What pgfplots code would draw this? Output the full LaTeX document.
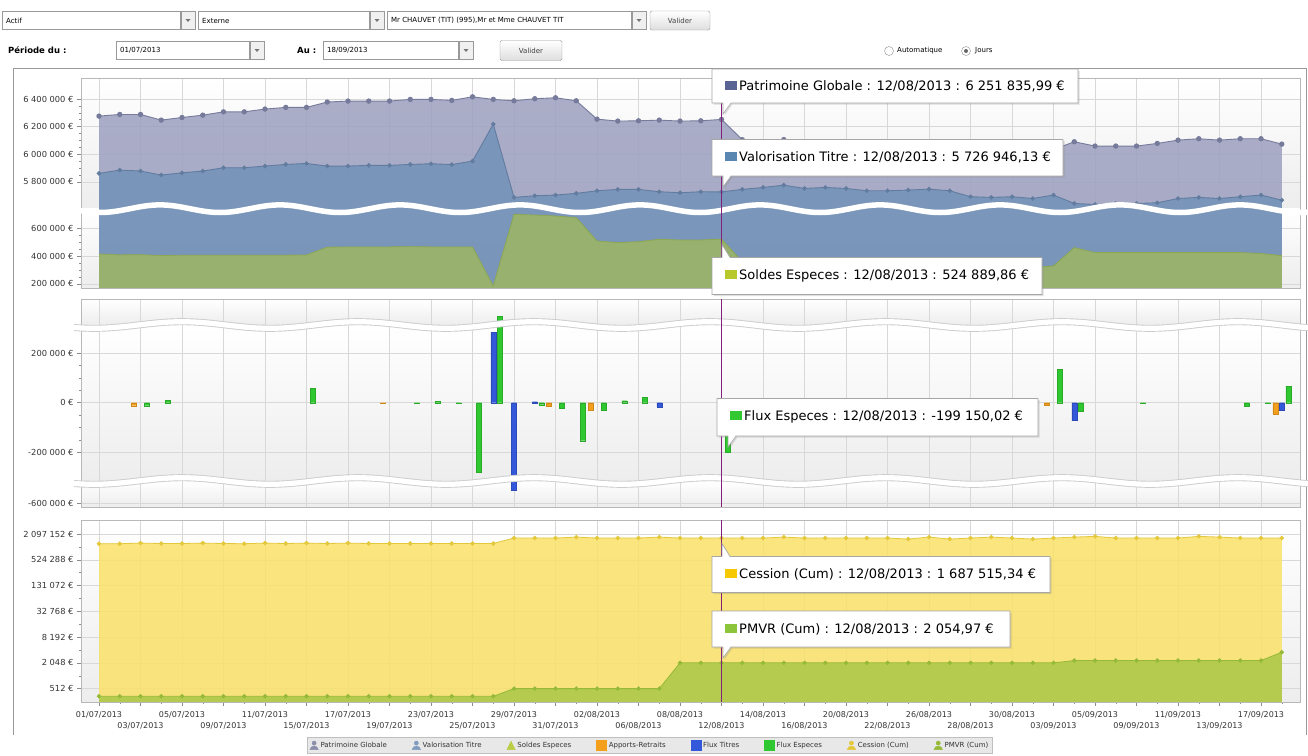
\documentclass[border=0pt]{standalone}
\usepackage{fontspec}
\setmainfont{DejaVu Sans}
\usepackage{pgfplots}
\pgfplotsset{compat=1.18}
\usepackage{pgfplotstable}
\usepgfplotslibrary{fillbetween}
\usetikzlibrary{shadows}

\definecolor{patF}{RGB}{157,160,191}
\definecolor{patL}{RGB}{118,122,155}
\definecolor{valF}{RGB}{114,146,184}
\definecolor{valL}{RGB}{98,124,160}
\definecolor{solF}{RGB}{158,182,98}
\definecolor{solL}{RGB}{140,168,80}
\definecolor{cesF}{RGB}{250,225,105}
\definecolor{cesL}{RGB}{228,200,60}
\definecolor{pmvF}{RGB}{174,201,75}
\definecolor{pmvL}{RGB}{150,185,55}
\definecolor{appC}{RGB}{245,160,28}
\definecolor{titC}{RGB}{52,88,218}
\definecolor{espC}{RGB}{48,200,48}
\definecolor{cursorC}{RGB}{130,32,122}
\definecolor{gridC}{RGB}{216,216,216}
\definecolor{axC}{RGB}{140,140,140}
\definecolor{tipPat}{RGB}{90,100,148}
\definecolor{tipVal}{RGB}{90,134,178}
\definecolor{tipSol}{RGB}{184,200,42}
\definecolor{tipEsp}{RGB}{50,200,50}
\definecolor{tipCes}{RGB}{245,200,0}
\definecolor{tipPmv}{RGB}{140,196,60}

\newcommand\fsz[1]{\fontsize{#1}{#1}\selectfont}

% index = business day (0 = 01/07/2013 ... 57 = 18/09/2013)
\pgfplotstableread{
i pat val sol ces pmvr
0 6276000 5861000 417000 1245000 339
1 6288000 5885000 410000 1245000 339
2 6288000 5878000 412000 1290000 339
3 6247000 5849000 405000 1260000 339
4 6266000 5865000 408000 1260000 339
5 6283000 5878000 408000 1290000 339
6 6307000 5902000 408000 1260000 339
7 6307000 5902000 408000 1245000 339
8 6327000 5914000 408000 1290000 339
9 6339000 5926000 408000 1260000 339
10 6339000 5933000 410000 1290000 339
11 6378000 5914000 466000 1260000 339
12 6385000 5914000 468000 1290000 339
13 6385000 5919000 468000 1260000 339
14 6385000 5919000 468000 1260000 339
15 6397000 5926000 470000 1260000 339
16 6397000 5931000 468000 1260000 339
17 6390000 5925000 468000 1260000 339
18 6416000 5950000 468000 1260000 339
19 6397000 6218000 185000 1260000 339
20 6387000 5687000 704000 1690000 514
21 6402000 5699000 699000 1690000 514
22 6409000 5704000 692000 1690000 514
23 6387000 5716000 680000 1780000 514
24 6254000 5735000 511000 1690000 514
25 6240000 5745000 499000 1690000 514
26 6242000 5745000 506000 1690000 514
27 6247000 5728000 523000 1780000 514
28 6240000 5721000 518000 1690000 2055
29 6242000 5728000 518000 1690000 2055
30 6251836 5726946 524890 1687515 2055
31 6105000 5745000 360000 1690000 2055
32 6089000 5759000 330000 1690000 2055
33 6106000 5776000 330000 1780000 2055
34 6077000 5752000 325000 1690000 2055
35 6084000 5759000 325000 1690000 2055
36 6077000 5752000 325000 1690000 2055
37 6057000 5735000 322000 1690000 2055
38 6055000 5735000 320000 1690000 2055
39 6060000 5740000 320000 1600000 2055
40 6067000 5747000 320000 1780000 2055
41 6055000 5735000 320000 1600000 2055
42 6010000 5692000 318000 1690000 2055
43 6005000 5687000 318000 1780000 2055
44 6010000 5692000 318000 1690000 2055
45 5997000 5679000 318000 1600000 2055
46 6034000 5704000 330000 1690000 2055
47 6090000 5643000 463000 1780000 2326
48 6059000 5636000 427000 1850000 2326
49 6059000 5643000 427000 1690000 2326
50 6059000 5643000 427000 1690000 2326
51 6078000 5648000 427000 1690000 2326
52 6102000 5679000 427000 1690000 2326
53 6112000 5687000 427000 1850000 2326
54 6102000 5679000 427000 1780000 2326
55 6112000 5692000 427000 1690000 2326
56 6112000 5704000 420000 1690000 2326
57 6073000 5667000 405000 1690000 3640
}\series

\pgfplotstableread{
i v
2 -12000
14 -3000
22 -13000
24 -29000
46 -9000
57 -45000
}\apports
\pgfplotstableread{
i v
19 283000
20 -546000
21 4000
27 -18000
47 -72000
57 -32000
}\titres
\pgfplotstableread{
i v
2 -12000
3 9000
10 58000
15 -3000
16 5000
17 -3000
18 -281500
19 350000
21 -8000
22 -21000
23 -153000
24 -29000
25 8000
26 22000
30 -199150
46 135600
47 -36000
50 -2000
55 -16000
56 -3000
57 67000
}\especes

\pgfplotsset{
  panel/.style={
    scale only axis, width=1219pt, xmin=-0.8675, xmax=57.88, anchor=north west,
    axis lines*=left, x axis line style={draw=none}, y axis line style={draw=axC},
    scaled y ticks=false,
    tick align=outside, major tick length=4pt, minor tick length=2pt,
    xtick={0,2,...,56}, xticklabels={}, xtick style={draw=none},
    ytick style={draw=axC, line width=0.5pt},
    minor y tick num=3,
    xmajorgrids, ymajorgrids, grid style={gridC, line width=0.5pt},
    yticklabel style={font=\fsz{8.3}, text=black!80},
    xticklabel style={font=\fsz{8}, text=black!80},
    axis background/.style={shade, top color=white, bottom color=black!7},
  },
  patfill/.style={fill=patF, fill opacity=0.85, draw=none},
  valfill/.style={fill=valF, fill opacity=0.85, draw=none},
  solfill/.style={fill=solF, fill opacity=0.85, draw=none},
  patline/.style={patL, line width=0.9pt, mark=*, mark size=2.2pt, mark options={fill=patL, draw=patL}},
  valline/.style={valL, line width=0.9pt, mark=*, mark size=1.8pt, mark options={fill=valL, draw=valL}},
  solline/.style={solL, line width=0.8pt},
  appbar/.style={ybar, bar width=5pt, bar shift=-6.5pt, fill=appC, draw=appC!85!black, line width=0.4pt},
  titbar/.style={ybar, bar width=5pt, bar shift=0pt, fill=titC, draw=titC!85!black, line width=0.4pt},
  espbar/.style={ybar, bar width=5pt, bar shift=6.5pt, fill=espC, draw=espC!85!black, line width=0.4pt},
}

\newcommand\personicon[1]{%
  \fill[#1] (4.5pt,2.8pt) circle (2.1pt);
  \fill[#1] (0.3pt,-3.8pt) .. controls (0.5pt,1pt) and (8.5pt,1pt) .. (8.7pt,-3.8pt) -- cycle;}
\newcommand\triicon[1]{\fill[#1] (0.3pt,-3.8pt) -- (4.5pt,4.8pt) -- (8.7pt,-3.8pt) -- cycle;}
\newcommand\sqicon[1]{\fill[#1] (0pt,-4pt) rectangle (10pt,6pt);}

% tooltips (pixel coordinates, y downwards)
\newcommand\tipdown[6]{%
  \path[fill=white, draw=black!35, line width=0.6pt, drop shadow={shadow xshift=1.5pt, shadow yshift=-1.5pt, opacity=0.25}]
    (#1,#2) -- (#3,#2) -- (#3,#4) -- ({#1+19},#4) -- ({#1+11},{#4+11}) -- ({#1+11},#4) -- (#1,#4) -- cycle;
  \node[anchor=west, inner sep=0pt, font=\fsz{13}] at ({#1+13},{(#2+#4)/2}) {\textcolor{#5}{\rule[0.5pt]{12pt}{9pt}}\hspace{2pt}#6};}
\newcommand\tipup[6]{%
  \path[fill=white, draw=black!35, line width=0.6pt, drop shadow={shadow xshift=1.5pt, shadow yshift=-1.5pt, opacity=0.25}]
    (#1,#2) -- ({#1+10},#2) -- ({#1+10},{#2-13}) -- ({#1+18},#2) -- (#3,#2) -- (#3,#4) -- (#1,#4) -- cycle;
  \node[anchor=west, inner sep=0pt, font=\fsz{13}] at ({#1+13},{(#2+#4)/2}) {\textcolor{#5}{\rule[0.5pt]{12pt}{9pt}}\hspace{2pt}#6};}
\newcommand\dropbox[5]{%
  \draw[black!40, fill=white] (#1,#2) rectangle (#3,#4);
  \node[anchor=west, font=\fsz{7}, inner sep=0pt] at ({#1+4},{(#2+#4)/2}) {#5};
  \draw[black!40, fill=black!6] ({#3+1},#2) rectangle ({#3+15},#4);
  \fill[black!55] ({#3+5.5},{(#2+#4)/2-1.5}) -- ({#3+10.5},{(#2+#4)/2-1.5}) -- ({#3+8},{(#2+#4)/2+1.5}) -- cycle;}
\newcommand\uibutton[5]{%
  \draw[black!40, rounded corners=1.5pt, top color=white, bottom color=black!13] (#1,#2) rectangle (#3,#4);
  \node[font=\fsz{7}, text=black!75] at ({(#1+#3)/2},{(#2+#4)/2}) {#5};}

\begin{document}
\begin{tikzpicture}
\path (0,0) rectangle (1308pt,-755pt);

% ---------- Panel 1: upper segment ----------
\begin{axis}[panel, at={(81pt,-78.3pt)}, height=130.5pt,
  ymin=5604400, ymax=6550000,
  ytick={5800000,6000000,6200000,6400000},
  yticklabels={5 800 000 €,6 000 000 €,6 200 000 €,6 400 000 €}]
\addplot[patfill] table[x=i,y=pat]{\series} \closedcycle;
\addplot[patline] table[x=i,y=pat]{\series};
\addplot[valfill] table[x=i,y=val]{\series} \closedcycle;
\addplot[valline] table[x=i,y=val]{\series};
\end{axis}
% ---------- Panel 1: lower segment ----------
\begin{axis}[panel, at={(81pt,-208.7pt)}, height=80.2pt,
  ymin=163800, ymax=744900,
  ytick={200000,400000,600000},
  yticklabels={200 000 €,400 000 €,600 000 €}]
\addplot[patfill] table[x=i,y=pat]{\series} \closedcycle;
\addplot[valfill] table[x=i,y=val]{\series} \closedcycle;
\addplot[solfill] table[x=i,y=sol]{\series} \closedcycle;
\addplot[solline] table[x=i,y=sol]{\series};
\end{axis}

% ---------- Panel 2: three segments ----------
\begin{axis}[panel, at={(81pt,-299.3pt)}, height=25.7pt,
  ymin=312700, ymax=416000, ytick=\empty, minor y tick num=0]
\addplot[espbar, restrict y to domain=312700:2000000] table[x=i,y=v]{\especes};
\end{axis}
\begin{axis}[panel, at={(81pt,-325pt)}, height=156pt,
  ymin=-315000, ymax=312700,
  ytick={-200000,0,200000},
  yticklabels={-200 000 €,0 €,200 000 €}]
\addplot[appbar] table[x=i,y=v]{\apports};
\addplot[titbar] table[x=i,y=v]{\titres};
\addplot[espbar] table[x=i,y=v]{\especes};
\end{axis}
\begin{axis}[panel, at={(81pt,-481pt)}, height=25.8pt,
  ymin=-613700, ymax=-510000,
  ytick={-600000}, yticklabels={-600 000 €}]
\addplot[titbar, restrict y to domain=-2000000:-510000] table[x=i,y=v]{\titres};
\end{axis}

% ---------- Panel 3 ----------
\begin{axis}[panel, at={(81pt,-520pt)}, height=181.7pt,
  ymode=log, ymin=254, ymax=4463000,
  ytick={512,2048,8192,32768,131072,524288,2097152},
  yticklabels={512 €,2 048 €,8 192 €,32 768 €,131 072 €,524 288 €,2 097 152 €},
  minor y tick num=0, minor ytick={1024,4096,16384,65536,262144,1048576},
  x axis line style={draw=axC}, xtick style={draw=axC},
  xtick={0,4,...,56},
  xticklabels={01/07/2013,05/07/2013,11/07/2013,17/07/2013,23/07/2013,29/07/2013,02/08/2013,08/08/2013,14/08/2013,20/08/2013,26/08/2013,30/08/2013,05/09/2013,11/09/2013,17/09/2013},
  extra x ticks={2,6,10,14,18,22,26,30,34,38,42,46,50,54},
  extra x tick labels={03/07/2013,09/07/2013,15/07/2013,19/07/2013,25/07/2013,31/07/2013,06/08/2013,12/08/2013,16/08/2013,22/08/2013,28/08/2013,03/09/2013,09/09/2013,13/09/2013},
  extra x tick style={grid=major, xticklabel style={yshift=-11pt}},
  minor xtick={0,1,...,57},
  xticklabel style={yshift=-2.5pt},
  legend style={at={(0.4668,-0.241)}, anchor=center, draw=black!25, fill=black!9,
    font=\fsz{7}, text=black!80, legend columns=-1, inner sep=2.2pt,
    /tikz/every even column/.append style={column sep=23pt}},
]
\addplot[draw=none, name path=base, forget plot] coordinates {(0,200) (57,200)};
\addplot[draw=none, name path=ces, forget plot] table[x=i,y=ces]{\series};
\addplot[fill=cesF, fill opacity=0.85, forget plot] fill between[of=ces and base];
\addplot[draw=none, name path=pmv, forget plot] table[x=i,y=pmvr]{\series};
\addplot[fill=pmvF, fill opacity=0.9, forget plot] fill between[of=pmv and base];
\addplot[cesL, line width=0.8pt, mark=*, mark size=1.8pt, mark options={fill=cesL}, forget plot] table[x=i,y=ces]{\series};
\addplot[pmvL, line width=0.8pt, mark=*, mark size=1.8pt, mark options={fill=pmvL}, forget plot] table[x=i,y=pmvr]{\series};
\addlegendimage{legend image code/.code={\personicon{patL!85}}}
\addlegendentry{Patrimoine Globale}
\addlegendimage{legend image code/.code={\personicon{valF!90}}}
\addlegendentry{Valorisation Titre}
\addlegendimage{legend image code/.code={\triicon{solF!70!yellow}}}
\addlegendentry{Soldes Especes}
\addlegendimage{legend image code/.code={\sqicon{appC}}}
\addlegendentry{Apports-Retraits}
\addlegendimage{legend image code/.code={\sqicon{titC}}}
\addlegendentry{Flux Titres}
\addlegendimage{legend image code/.code={\sqicon{espC}}}
\addlegendentry{Flux Especes}
\addlegendimage{legend image code/.code={\personicon{cesL}}}
\addlegendentry{Cession (Cum)}
\addlegendimage{legend image code/.code={\personicon{pmvL}}}
\addlegendentry{PMVR (Cum)}
\end{axis}

% ---------- decorations in pixel coordinates ----------
\begin{scope}[x=1pt,y=-1pt]
  \draw[black!40] (13,735) -- (13,68.5) -- (1306,68.5) -- (1306,735);
  \draw[black!28] (81,78.3) rectangle (1300,288.3);
  \draw[black!28] (81,299.3) rectangle (1300,506.7);
  \draw[black!28] (81,520) rectangle (1300,701.7);
  \begin{scope}
    \clip (74,190) rectangle (1308,230);
    \draw[white, line width=5.5pt] (70,208.7) \foreach \k in {0,...,10}{ sin ++(30,3.8) cos ++(30,-3.8) sin ++(30,-3.8) cos ++(30,3.8) };
  \end{scope}
  \foreach \yc in {325,481}{
    \begin{scope}
      \clip (74,\yc-12) rectangle (1308,\yc+12);
      \draw[black!20, line width=7pt] (50,\yc) \foreach \k in {0,...,7}{ sin ++(44,3.3) cos ++(44,-3.3) sin ++(44,-3.3) cos ++(44,3.3) };
      \draw[white, line width=5.2pt] (50,\yc) \foreach \k in {0,...,7}{ sin ++(44,3.3) cos ++(44,-3.3) sin ++(44,-3.3) cos ++(44,3.3) };
    \end{scope}
  }
  \draw[cursorC, line width=1.3pt] (721.5,78.3) -- (721.5,288.3);
  \draw[cursorC, line width=1.3pt] (721.5,299.3) -- (721.5,506.7);
  \draw[cursorC, line width=1.3pt] (721.5,520) -- (721.5,701.7);
  \tipdown{712}{69}{1078}{103}{tipPat}{Patrimoine Globale : 12/08/2013 : 6 251 835,99 €}
  \tipdown{712}{139.5}{1063}{176}{tipVal}{Valorisation Titre : 12/08/2013 : 5 726 946,13 €}
  \tipup{712}{257.5}{1042}{294.5}{tipSol}{Soldes Especes : 12/08/2013 : 524 889,86 €}
  \tipdown{717}{398.5}{1038}{436}{tipEsp}{Flux Especes : 12/08/2013 : -199 150,02 €}
  \tipup{712}{556.5}{1050}{592.5}{tipCes}{Cession (Cum) : 12/08/2013 : 1 687 515,34 €}
  \tipdown{712}{611}{1010}{647}{tipPmv}{PMVR (Cum) : 12/08/2013 : 2 054,97 €}
  \dropbox{2}{11.5}{180}{29.5}{Actif}
  \dropbox{198}{11.5}{369}{29.5}{Externe}
  \dropbox{387}{11.5}{631}{29.5}{Mr CHAUVET (TIT) (995),Mr et Mme CHAUVET TIT}
  \uibutton{650}{11}{710}{30}{Valider}
  \node[anchor=west, font=\fsz{8.5}\bfseries, inner sep=0pt] at (8,50.5) {Période du :};
  \dropbox{116}{41.5}{249}{59.5}{01/07/2013}
  \node[anchor=west, font=\fsz{8.5}\bfseries, inner sep=0pt] at (297,50.5) {Au :};
  \dropbox{323}{41.5}{458}{59.5}{18/09/2013}
  \uibutton{500}{40.5}{562}{60.5}{Valider}
  \draw[black!45, fill=white] (889,51) circle (4.5);
  \node[anchor=west, font=\fsz{7}, inner sep=0pt] at (897,51) {Automatique};
  \draw[black!45, fill=white] (966,51) circle (4.5);
  \fill[black!60] (966,51) circle (2);
  \node[anchor=west, font=\fsz{7}, inner sep=0pt] at (975,51) {Jours};
\end{scope}
\end{tikzpicture}
\end{document}
